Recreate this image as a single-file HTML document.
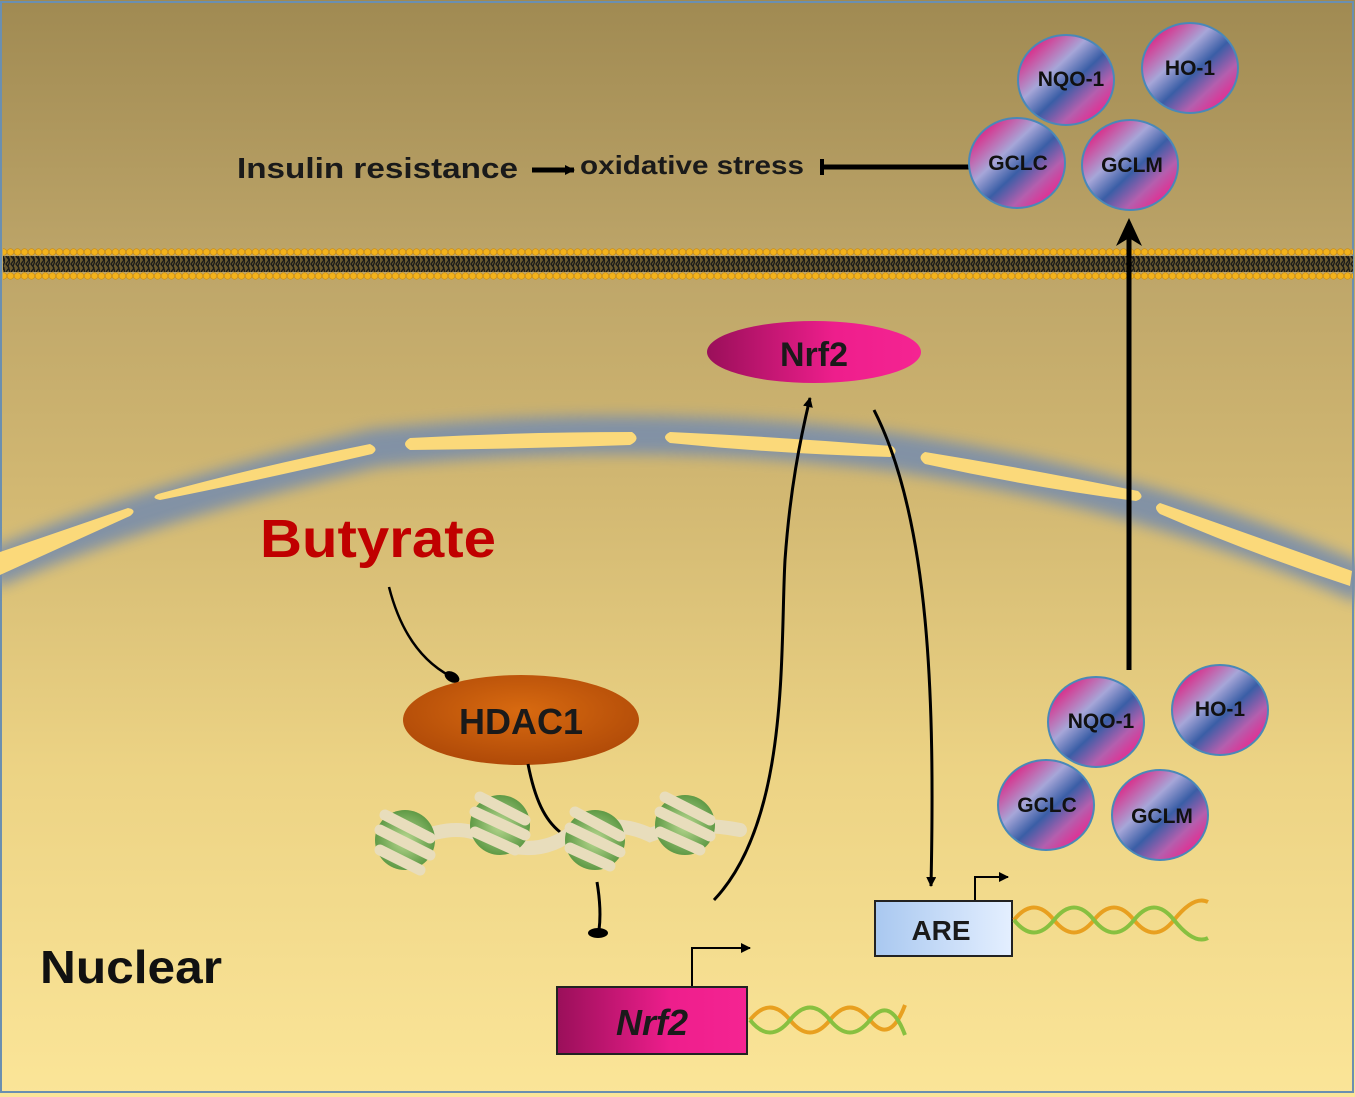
<!DOCTYPE html>
<html><head><meta charset="utf-8"><style>html,body{margin:0;padding:0;background:#fff}svg{display:block}</style></head><body>
<svg width="1355" height="1097" viewBox="0 0 1355 1097" xmlns="http://www.w3.org/2000/svg" font-family="Liberation Sans, sans-serif">
<defs>
<linearGradient id="bg" x1="0" y1="0" x2="0" y2="1">
<stop offset="0" stop-color="#a08a52"/><stop offset="0.23" stop-color="#bca468"/><stop offset="0.45" stop-color="#d2b872"/><stop offset="0.7" stop-color="#ecd384"/><stop offset="1" stop-color="#fbe598"/></linearGradient>
<filter id="blur" x="-10%" y="-50%" width="120%" height="200%"><feGaussianBlur stdDeviation="7"/></filter>
<linearGradient id="ball" x1="0" y1="0" x2="1" y2="1">
<stop offset="0.1" stop-color="#e3187c"/><stop offset="0.38" stop-color="#a6a6d8"/><stop offset="0.55" stop-color="#3a5ea6"/><stop offset="0.72" stop-color="#b45fae"/><stop offset="0.9" stop-color="#f0208a"/></linearGradient>
<linearGradient id="nrf" x1="0" y1="0" x2="1" y2="0"><stop offset="0" stop-color="#9a0f5a"/><stop offset="0.6" stop-color="#ee1e8c"/><stop offset="1" stop-color="#f52492"/></linearGradient>
<linearGradient id="are" x1="0" y1="0" x2="1" y2="0"><stop offset="0" stop-color="#a9c8f0"/><stop offset="1" stop-color="#e4efff"/></linearGradient>
<radialGradient id="hd" cx="0.5" cy="0.4" r="0.6"><stop offset="0" stop-color="#d86a10"/><stop offset="1" stop-color="#b04a08"/></radialGradient>
<radialGradient id="nuc" cx="0.5" cy="0.5" r="0.5"><stop offset="0" stop-color="#b8d890"/><stop offset="1" stop-color="#5f9a46"/></radialGradient>
<marker id="ar" markerWidth="10" markerHeight="10" refX="9" refY="5" orient="auto" markerUnits="userSpaceOnUse"><path d="M0,0 L10,5 L0,10 z" fill="#000"/></marker>
<pattern id="dots" width="7" height="8" patternUnits="userSpaceOnUse"><circle cx="3.5" cy="4" r="3.3" fill="#f2b21c" stroke="#c98a10" stroke-width="0.6"/></pattern>
<pattern id="tails" width="5" height="16" patternUnits="userSpaceOnUse"><path d="M1,0 L4,4 L1,8 L4,12 L1,16 M3,0 L5,5 L3,10 L5,16" stroke="#1a1a1a" stroke-width="1.3" fill="none"/></pattern>
</defs>
<rect width="1355" height="1097" fill="url(#bg)"/>
<rect x="1" y="2" width="1352" height="1090" fill="none" stroke="#6b8fb0" stroke-width="2"/>
<!-- membrane -->
<rect x="3" y="248" width="1350" height="8" fill="url(#dots)"/>
<rect x="3" y="256" width="1350" height="16" fill="#6a5a30"/>
<rect x="3" y="256" width="1350" height="16" fill="url(#tails)"/>
<rect x="3" y="272" width="1350" height="8" fill="url(#dots)"/>
<!-- nuclear envelope -->
<path d="M-10,570 Q140,505 375,448 Q640,420 895,452 Q1150,490 1365,585" stroke="#7e90a8" stroke-width="38" fill="none" filter="url(#blur)" opacity="0.95"/>
<g fill="#fbd97a">
<path d="M0,552 L128,508 Q138,510 130,516 L0,575 z"/>
<path d="M158,494 Q260,466 370,444 Q380,449 372,454 Q260,480 160,500 Q150,498 158,494z"/>
<path d="M410,438 Q520,432 632,432 Q642,439 630,445 Q520,449 410,450 Q400,444 410,438z"/>
<path d="M670,432 Q780,437 892,446 Q900,452 890,457 Q780,454 670,443 Q660,437 670,432z"/>
<path d="M925,452 Q1030,469 1138,491 Q1146,498 1136,501 Q1030,487 925,464 Q916,457 925,452z"/>
<path d="M1160,503 Q1260,538 1352,571 L1350,586 Q1255,555 1160,514 Q1152,507 1160,503z"/>
</g>
<!-- top text -->
<text x="237" y="178" font-size="29" font-weight="bold" fill="#1a1a1a" textLength="281" lengthAdjust="spacingAndGlyphs">Insulin resistance</text>
<line x1="532" y1="170" x2="574" y2="170" stroke="#000" stroke-width="5" marker-end="url(#ar)"/>
<text x="580" y="174" font-size="26" font-weight="bold" fill="#1a1a1a" textLength="224" lengthAdjust="spacingAndGlyphs">oxidative stress</text>
<line x1="822" y1="167" x2="972" y2="167" stroke="#000" stroke-width="5"/>
<line x1="822" y1="159" x2="822" y2="175" stroke="#000" stroke-width="4"/>
<!-- balls -->
<g stroke="#4a88b8" stroke-width="2">
<ellipse cx="1066" cy="80" rx="48" ry="45" fill="url(#ball)"/>
<ellipse cx="1190" cy="68" rx="48" ry="45" fill="url(#ball)"/>
<ellipse cx="1017" cy="163" rx="48" ry="45" fill="url(#ball)"/>
<ellipse cx="1130" cy="165" rx="48" ry="45" fill="url(#ball)"/>
<ellipse cx="1096" cy="722" rx="48" ry="45" fill="url(#ball)"/>
<ellipse cx="1220" cy="710" rx="48" ry="45" fill="url(#ball)"/>
<ellipse cx="1046" cy="805" rx="48" ry="45" fill="url(#ball)"/>
<ellipse cx="1160" cy="815" rx="48" ry="45" fill="url(#ball)"/>
</g>
<g font-size="21" font-weight="bold" fill="#111" text-anchor="middle">
<text x="1071" y="86">NQO-1</text><text x="1190" y="75">HO-1</text>
<text x="1018" y="170">GCLC</text><text x="1132" y="172">GCLM</text>
<text x="1101" y="728">NQO-1</text><text x="1220" y="716">HO-1</text>
<text x="1047" y="812">GCLC</text><text x="1162" y="823">GCLM</text>
</g>
<!-- vertical arrow -->
<line x1="1129" y1="670" x2="1129" y2="226" stroke="#000" stroke-width="5"/>
<path d="M1129,218 L1116,246 L1129,238 L1142,246 z" fill="#000"/>
<!-- Nrf2 cytoplasm -->
<ellipse cx="814" cy="352" rx="107" ry="31" fill="url(#nrf)"/>
<text x="814" y="366" font-size="34" font-weight="bold" fill="#1a1a1a" text-anchor="middle">Nrf2</text>
<!-- curves -->
<path d="M714,900 C790,820 780,650 785,560 C790,490 800,440 810,398" stroke="#000" stroke-width="3" fill="none" marker-end="url(#ar)"/>
<path d="M874,410 C930,520 935,700 931,886" stroke="#000" stroke-width="3" fill="none" marker-end="url(#ar)"/>
<!-- Butyrate -->
<text x="260" y="557" font-size="54" font-weight="bold" fill="#c00000" textLength="236" lengthAdjust="spacingAndGlyphs">Butyrate</text>
<path d="M389,587 C400,630 420,660 450,676" stroke="#000" stroke-width="2.5" fill="none"/>
<ellipse cx="452" cy="677" rx="5" ry="8" fill="#000" transform="rotate(-60 452 677)"/>
<ellipse cx="521" cy="720" rx="118" ry="45" fill="url(#hd)"/>
<text x="521" y="734" font-size="36" font-weight="bold" fill="#1a1a1a" text-anchor="middle">HDAC1</text>
<path d="M528,764 C535,800 545,820 560,832" stroke="#000" stroke-width="3" fill="none"/>
<!-- nucleosomes -->
<g>
<path d="M415,840 Q460,820 490,840 Q540,860 575,830 Q620,820 650,835 Q690,820 740,830" stroke="#e8ddbc" stroke-width="14" fill="none" stroke-linecap="round"/>
<g fill="url(#nuc)"><circle cx="405" cy="840" r="30"/><circle cx="500" cy="825" r="30"/><circle cx="595" cy="840" r="30"/><circle cx="685" cy="825" r="30"/></g>
<g stroke="#e8ddbc" stroke-width="11" stroke-linecap="round" fill="none">
<path d="M380,830 L430,855 M385,815 L430,838 M380,850 L420,870"/>
<path d="M475,812 L525,835 M480,797 L525,820 M475,832 L515,850"/>
<path d="M570,828 L620,852 M575,812 L620,836 M570,848 L610,866"/>
<path d="M660,812 L710,836 M665,797 L710,820 M660,832 L700,850"/>
</g></g>
<path d="M597,882 C600,900 601,915 599,930" stroke="#000" stroke-width="3" fill="none"/>
<ellipse cx="598" cy="933" rx="10" ry="5" fill="#000"/>
<!-- Nuclear -->
<text x="40" y="983" font-size="46" font-weight="bold" fill="#111" textLength="182" lengthAdjust="spacingAndGlyphs">Nuclear</text>
<!-- Nrf2 gene -->
<path d="M692,987 L692,948 L750,948" stroke="#000" stroke-width="2" fill="none" marker-end="url(#ar)"/>
<rect x="557" y="987" width="190" height="67" fill="url(#nrf)" stroke="#222" stroke-width="2"/>
<text x="652" y="1035" font-size="36" font-weight="bold" font-style="italic" fill="#1a1a1a" text-anchor="middle">Nrf2</text>
<g stroke-width="4" fill="none">
<path d="M750,1020 Q770,995 790,1020 T830,1020 T870,1020 T905,1005" stroke="#e8a020"/>
<path d="M750,1020 Q770,1045 790,1020 T830,1020 T870,1020 T905,1035" stroke="#88c040"/>
</g>
<!-- ARE -->
<path d="M975,900 L975,877 L1008,877" stroke="#000" stroke-width="2" fill="none" marker-end="url(#ar)"/>
<rect x="875" y="901" width="137" height="55" fill="url(#are)" stroke="#222" stroke-width="2"/>
<text x="941" y="940" font-size="28" font-weight="bold" fill="#1a1a1a" text-anchor="middle">ARE</text>
<g stroke-width="4" fill="none">
<path d="M1014,920 Q1034,895 1054,920 T1094,920 T1134,920 T1174,920 T1208,902" stroke="#e8a020"/>
<path d="M1014,920 Q1034,945 1054,920 T1094,920 T1134,920 T1174,920 T1208,938" stroke="#88c040"/>
</g>
</svg>
</body></html>
